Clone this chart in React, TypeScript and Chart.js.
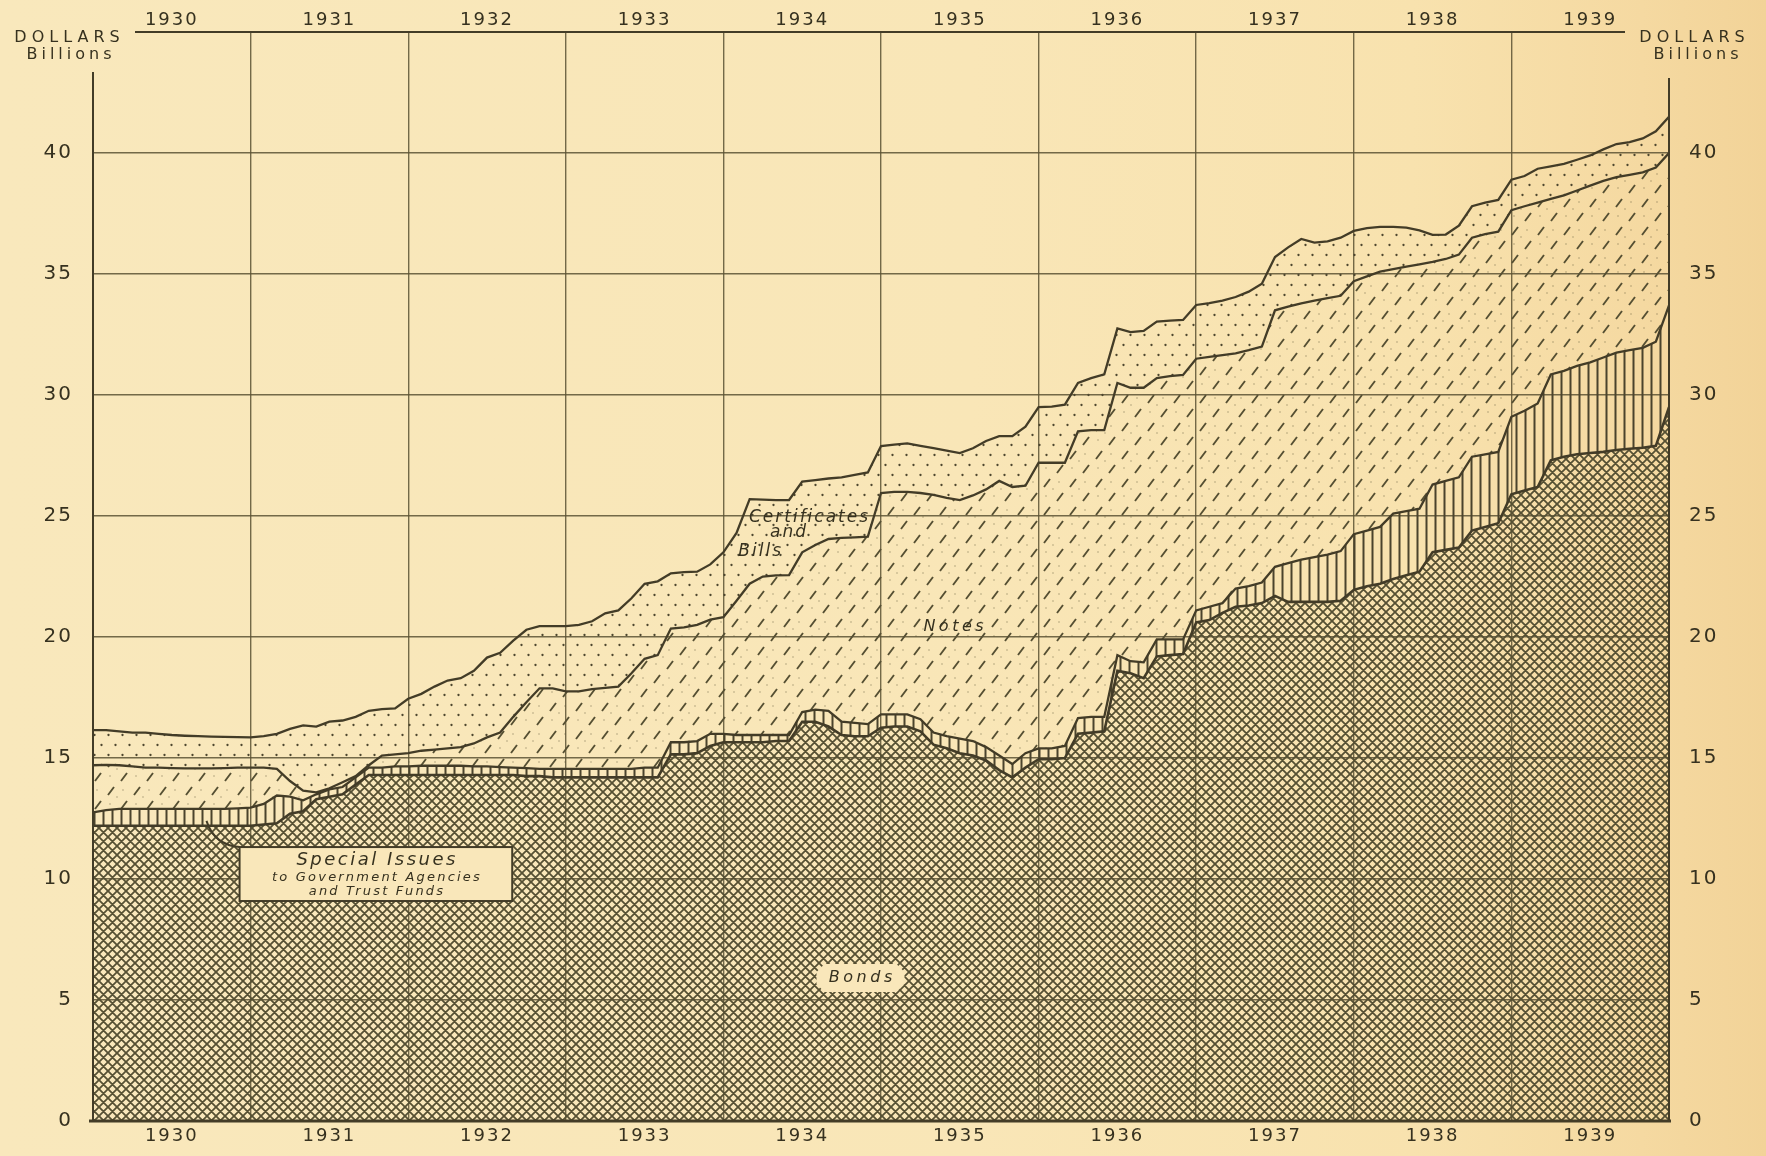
import React, { useEffect, useRef } from 'react';
import { Chart, registerables } from 'chart.js';

Chart.register(...registerables);

const WIDTH = 1766;
const HEIGHT = 1156;

// ---- data ----
const yearLabels = ['1930', '1931', '1932', '1933', '1934', '1935', '1936', '1937', '1938', '1939'];
const yTickValues = [0, 5, 10, 15, 20, 25, 30, 35, 40];
const firstYear = 1930;
const lastYear = 1940;
const yMax = 45;
const monthCount = 121;
// month-end positions (fractional years)
const months = Array.from({ length: monthCount }, (_, i) => firstYear + i / 12);

// Cumulative levels in billions of dollars (monthly)
// Bonds
const bondsLevel = [
  12.2, 12.2, 12.2, 12.2, 12.2, 12.2, 12.2, 12.2, 12.2, 12.2, 12.2, 12.2, 12.2,
  12.25, 12.3, 12.7, 12.8, 13.3, 13.4, 13.5, 13.9, 14.3, 14.3, 14.3, 14.3,
  14.3, 14.3, 14.3, 14.3, 14.3, 14.3, 14.3, 14.3, 14.25, 14.25, 14.2, 14.2,
  14.2, 14.2, 14.2, 14.2, 14.2, 14.2, 14.2, 15.15, 15.15, 15.2, 15.5, 15.65,
  15.65, 15.65, 15.65, 15.7, 15.7, 16.5, 16.5, 16.3, 15.95, 15.9, 15.9, 16.25,
  16.3, 16.3, 16.1, 15.55, 15.4, 15.2, 15.1, 14.9, 14.5, 14.2, 14.6, 14.95,
  14.95, 15.0, 16.0, 16.05, 16.1, 18.6, 18.5, 18.3, 19.2, 19.25, 19.3, 20.6,
  20.7, 21.0, 21.25, 21.3, 21.4, 21.7, 21.45, 21.45, 21.45, 21.45, 21.5, 21.95,
  22.1, 22.2, 22.4, 22.55, 22.7, 23.5, 23.6, 23.7, 24.4, 24.55, 24.7, 25.9,
  26.05, 26.2, 27.3, 27.45, 27.55, 27.6, 27.65, 27.73, 27.78, 27.82, 27.9, 29.5,
];
// Bonds + Special Issues
const specialIssuesLevel = [
  12.75, 12.85, 12.9, 12.9, 12.9, 12.9, 12.9, 12.9, 12.9, 12.9, 12.9, 12.92, 12.95,
  13.1, 13.45, 13.4, 13.25, 13.5, 13.7, 13.8, 14.2, 14.6, 14.6, 14.65, 14.65,
  14.68, 14.68, 14.68, 14.68, 14.65, 14.65, 14.62, 14.6, 14.58, 14.55, 14.55, 14.55,
  14.55, 14.55, 14.55, 14.55, 14.55, 14.6, 14.6, 15.65, 15.65, 15.7, 16.0, 16.0,
  15.95, 15.95, 15.95, 15.95, 15.95, 16.9, 17.0, 16.95, 16.5, 16.45, 16.4, 16.8,
  16.8, 16.8, 16.6, 16.05, 15.9, 15.8, 15.7, 15.45, 15.1, 14.75, 15.2, 15.4,
  15.4, 15.5, 16.65, 16.7, 16.7, 19.25, 19.0, 18.95, 19.9, 19.9, 19.9, 21.1,
  21.25, 21.4, 22.0, 22.1, 22.25, 22.9, 23.05, 23.2, 23.3, 23.4, 23.55, 24.25,
  24.4, 24.55, 25.1, 25.2, 25.3, 26.3, 26.45, 26.6, 27.45, 27.55, 27.65, 29.1,
  29.35, 29.65, 30.85, 31.0, 31.2, 31.35, 31.55, 31.75, 31.85, 31.95, 32.2, 33.7,
];
// Bonds + Special Issues + Notes
const notesLevel = [
  14.7, 14.72, 14.7, 14.65, 14.6, 14.6, 14.58, 14.57, 14.57, 14.57, 14.58, 14.6, 14.6,
  14.6, 14.55, 14.05, 13.65, 13.58, 13.75, 14.0, 14.25, 14.7, 15.1, 15.15, 15.2,
  15.3, 15.35, 15.4, 15.45, 15.6, 15.85, 16.05, 16.7, 17.3, 17.88, 17.88, 17.75,
  17.75, 17.85, 17.9, 17.95, 18.5, 19.1, 19.25, 20.35, 20.4, 20.5, 20.72, 20.82,
  21.5, 22.2, 22.5, 22.55, 22.56, 23.5, 23.8, 24.05, 24.1, 24.12, 24.15, 25.95,
  26.0, 26.0, 25.95, 25.87, 25.75, 25.66, 25.85, 26.1, 26.45, 26.2, 26.25, 27.2,
  27.2, 27.2, 28.5, 28.55, 28.55, 30.5, 30.3, 30.3, 30.7, 30.78, 30.83, 31.5,
  31.58, 31.65, 31.72, 31.85, 32.0, 33.5, 33.65, 33.79, 33.9, 34.0, 34.1, 34.7,
  34.9, 35.1, 35.2, 35.3, 35.4, 35.5, 35.62, 35.8, 36.5, 36.65, 36.75, 37.64,
  37.8, 37.95, 38.1, 38.25, 38.45, 38.65, 38.85, 39.0, 39.1, 39.2, 39.4, 40.0,
];
// Total (incl. Certificates and Bills)
const totalLevel = [
  16.15, 16.15, 16.1, 16.05, 16.05, 16.0, 15.95, 15.92, 15.9, 15.88, 15.87, 15.86, 15.85,
  15.9, 16.0, 16.2, 16.35, 16.3, 16.5, 16.55, 16.7, 16.95, 17.02, 17.05, 17.45,
  17.65, 17.95, 18.2, 18.3, 18.6, 19.15, 19.35, 19.85, 20.3, 20.45, 20.45, 20.45,
  20.5, 20.65, 20.98, 21.1, 21.6, 22.2, 22.3, 22.63, 22.68, 22.7, 23.0, 23.5,
  24.3, 25.7, 25.68, 25.66, 25.66, 26.42, 26.48, 26.55, 26.6, 26.7, 26.8, 27.89,
  27.95, 28.0, 27.9, 27.8, 27.7, 27.6, 27.8, 28.1, 28.3, 28.3, 28.69, 29.5,
  29.52, 29.6, 30.5, 30.7, 30.85, 32.75, 32.6, 32.65, 33.03, 33.07, 33.1, 33.72,
  33.8, 33.9, 34.05, 34.27, 34.6, 35.7, 36.1, 36.45, 36.3, 36.35, 36.5, 36.78,
  36.9, 36.95, 36.95, 36.92, 36.8, 36.62, 36.63, 37.0, 37.8, 37.95, 38.06, 38.9,
  39.05, 39.35, 39.45, 39.55, 39.72, 39.9, 40.15, 40.37, 40.45, 40.6, 40.9, 41.5,
];

// ---- style ----
const INK = '#433c27';
const TEXT = '#36311f';
const GRID = 'rgba(92,82,52,0.85)';
const PAPER = '#f9e7ba';
const FONT = '"DejaVu Sans", "Noto Sans", sans-serif';

function makeTile(w: number, h: number, draw: (g: CanvasRenderingContext2D, w: number, h: number) => void) {
  const c = document.createElement('canvas');
  c.width = w;
  c.height = h;
  const g = c.getContext('2d') as CanvasRenderingContext2D;
  draw(g, w, h);
  return g.createPattern(c, 'repeat') as CanvasPattern;
}

function crossHatch() {
  return makeTile(9, 9, (g, w, h) => {
    g.strokeStyle = '#565033';
    g.lineWidth = 1.75;
    g.beginPath();
    for (const d of [-w, 0, w]) {
      g.moveTo(d - 1, -1);
      g.lineTo(d + w + 1, h + 1);
      g.moveTo(d - 1, h + 1);
      g.lineTo(d + w + 1, -1);
    }
    g.stroke();
  });
}

function verticalLines() {
  return makeTile(9, 4, (g) => {
    g.fillStyle = '#4a432c';
    g.fillRect(3.5, 0, 2, 4);
  });
}

function dashes() {
  return makeTile(26, 28, (g) => {
    g.strokeStyle = '#565033';
    g.lineWidth = 1.9;
    g.beginPath();
    g.moveTo(4, 11);
    g.lineTo(10, 3);
    g.moveTo(17, 25);
    g.lineTo(23, 17);
    g.stroke();
    g.fillStyle = 'rgba(88,80,52,0.5)';
    for (const [x, y] of [[19, 6], [6, 20], [13, 13]]) {
      g.beginPath();
      g.arc(x, y, 0.75, 0, Math.PI * 2);
      g.fill();
    }
  });
}

function dots() {
  return makeTile(14, 20, (g) => {
    g.fillStyle = '#4e472f';
    for (const [x, y] of [[3.5, 5], [10.5, 15]]) {
      g.beginPath();
      g.arc(x, y, 1.15, 0, Math.PI * 2);
      g.fill();
    }
  });
}

const toPoints = (arr: number[]) => arr.map((v, i) => ({ x: months[i], y: v }));

const decorPlugin = {
  id: 'decor',
  beforeDraw(chart: any) {
    chart.ctx.letterSpacing = '2px';
  },
  afterDraw(chart: any) {
    const ctx = chart.ctx as CanvasRenderingContext2D;
    const xs = chart.scales.x;
    const ys = chart.scales.y;
    const px = (v: number) => xs.getPixelForValue(v);
    const py = (v: number) => ys.getPixelForValue(v);
    ctx.save();
    ctx.strokeStyle = INK;
    ctx.lineCap = 'butt';

    // frame
    ctx.lineWidth = 2;
    ctx.beginPath();
    ctx.moveTo(135, py(yMax));
    ctx.lineTo(1625, py(yMax));
    ctx.moveTo(px(firstYear), 72);
    ctx.lineTo(px(firstYear), py(0));
    ctx.moveTo(px(lastYear), 78);
    ctx.lineTo(px(lastYear), py(0));
    ctx.stroke();
    ctx.lineWidth = 3;
    ctx.beginPath();
    ctx.moveTo(px(firstYear) - 4, py(0));
    ctx.lineTo(px(lastYear) + 2, py(0));
    ctx.stroke();

    const text = (s: string, x: number, y: number, font: string, spacing: number) => {
      ctx.font = font;
      (ctx as any).letterSpacing = spacing + 'px';
      ctx.fillText(s, x + spacing / 2, y);
    };
    ctx.fillStyle = TEXT;
    ctx.textAlign = 'center';
    ctx.textBaseline = 'middle';

    // axis titles
    text('DOLLARS', 67, 38, `16px ${FONT}`, 5);
    text('Billions', 69, 55, `16px ${FONT}`, 4);
    text('DOLLARS', 1692, 38, `16px ${FONT}`, 5);
    text('Billions', 1696, 55, `16px ${FONT}`, 4);

    // Certificates and Bills
    const it17 = `italic 17px ${FONT}`;
    text('Certificates', px(1934.54), py(24.92), it17, 2);
    text('and', px(1934.41), py(24.3), it17, 2);
    text('Bills', px(1934.23), py(23.55), it17, 2);

    // Notes
    text('Notes', px(1935.46), py(20.41), `italic 16px ${FONT}`, 3.5);

    // Bonds with cleared blob
    const bx = px(1934.87);
    const by = py(5.91);
    const hw = 44;
    const hh = 14;
    const cut = 8;
    ctx.fillStyle = PAPER;
    ctx.beginPath();
    ctx.moveTo(bx - hw + cut, by - hh);
    ctx.lineTo(bx + hw - cut, by - hh);
    ctx.lineTo(bx + hw, by - hh + cut);
    ctx.lineTo(bx + hw, by + hh - cut);
    ctx.lineTo(bx + hw - cut, by + hh);
    ctx.lineTo(bx - hw + cut, by + hh);
    ctx.lineTo(bx - hw, by + hh - cut);
    ctx.lineTo(bx - hw, by - hh + cut);
    ctx.closePath();
    ctx.fill();
    ctx.fillStyle = TEXT;
    text('Bonds', bx, by, `italic 16px ${FONT}`, 3.5);

    // Special Issues box
    const x0 = px(1930.93);
    const x1 = px(1932.66);
    const y0 = py(11.32);
    const y1 = py(9.09);
    ctx.fillStyle = PAPER;
    ctx.fillRect(x0, y0, x1 - x0, y1 - y0);
    ctx.lineWidth = 2;
    ctx.strokeRect(x0, y0, x1 - x0, y1 - y0);
    // leader
    ctx.lineWidth = 2;
    ctx.beginPath();
    ctx.moveTo(x0, y0);
    ctx.quadraticCurveTo(px(1930.77), py(11.4), px(1930.72), py(12.4));
    ctx.stroke();
    ctx.fillStyle = TEXT;
    const cx = (x0 + x1) / 2;
    text('Special Issues', cx, y0 + 13, `italic 18px ${FONT}`, 2.5);
    text('to Government Agencies', cx, y0 + 31, `italic 13px ${FONT}`, 2.2);
    text('and Trust Funds', cx, y0 + 45, `italic 13px ${FONT}`, 2.2);

    ctx.restore();
    (ctx as any).letterSpacing = '0px';
  },
};

export default function App() {
  const canvasRef = useRef<HTMLCanvasElement | null>(null);

  useEffect(() => {
    const canvas = canvasRef.current;
    if (!canvas) return;
    const transparent = 'rgba(0,0,0,0)';
    const yearFont = { family: FONT, size: 18 };
    const numFont = { family: FONT, size: 20 };

    const chart = new Chart(canvas, {
      type: 'line',
      data: {
        datasets: [
          {
            label: 'Bonds',
            data: toPoints(bondsLevel),
            borderColor: INK,
            borderWidth: 2.6,
            backgroundColor: crossHatch(),
            fill: 'origin',
            pointRadius: 0,
            tension: 0,
          },
          {
            label: 'Special Issues',
            data: toPoints(specialIssuesLevel),
            borderColor: INK,
            borderWidth: 2.3,
            backgroundColor: verticalLines(),
            fill: '-1',
            pointRadius: 0,
            tension: 0,
          },
          {
            label: 'Notes',
            data: toPoints(notesLevel),
            borderColor: INK,
            borderWidth: 2.3,
            backgroundColor: dashes(),
            fill: '-1',
            pointRadius: 0,
            tension: 0,
          },
          {
            label: 'Certificates and Bills',
            data: toPoints(totalLevel),
            borderColor: INK,
            borderWidth: 2.3,
            backgroundColor: dots(),
            fill: '-1',
            pointRadius: 0,
            tension: 0,
          },
        ],
      },
      options: {
        responsive: false,
        animation: false,
        events: [],
        devicePixelRatio: 1,
        layout: { padding: 0 },
        plugins: { legend: { display: false }, tooltip: { enabled: false } },
        scales: {
          x: {
            type: 'linear',
            axis: 'x',
            position: 'bottom',
            min: firstYear,
            max: lastYear,
            ticks: { display: false, stepSize: 1 },
            grid: {
              color: (c: any) => (c.tick && (c.tick.value === firstYear || c.tick.value === lastYear) ? transparent : GRID),
              lineWidth: 1.4,
              drawTicks: false,
            },
            border: { display: false },
            afterFit: (s: any) => { s.height = 0; },
          },
          xBottom: {
            type: 'linear',
            axis: 'x',
            position: 'bottom',
            min: firstYear,
            max: lastYear,
            afterBuildTicks: (s: any) => { s.ticks = yearLabels.map((_, i) => ({ value: firstYear + 0.5 + i })); },
            ticks: {
              autoSkip: false, maxRotation: 0, minRotation: 0, padding: 5, color: TEXT, font: yearFont,
              callback: (_v: any, i: number) => yearLabels[i],
            },
            grid: { display: false, drawTicks: false },
            border: { display: false },
            afterFit: (s: any) => { s.height = 35; },
          },
          xTop: {
            type: 'linear',
            axis: 'x',
            position: 'top',
            min: firstYear,
            max: lastYear,
            afterBuildTicks: (s: any) => { s.ticks = yearLabels.map((_, i) => ({ value: firstYear + 0.5 + i })); },
            ticks: {
              autoSkip: false, maxRotation: 0, minRotation: 0, padding: 1, color: TEXT, font: yearFont,
              callback: (_v: any, i: number) => yearLabels[i],
            },
            grid: { display: false, drawTicks: false },
            border: { display: false },
            afterFit: (s: any) => { s.height = 32; },
          },
          y: {
            type: 'linear',
            axis: 'y',
            position: 'left',
            min: 0,
            max: yMax,
            ticks: {
              stepSize: 5, padding: 20, color: TEXT, font: numFont,
              callback: (v: any) => (yTickValues.includes(v) ? String(v) : ''),
            },
            grid: {
              color: (c: any) => (c.tick && (c.tick.value === 0 || c.tick.value === yMax) ? transparent : GRID),
              lineWidth: 1.4,
              drawTicks: false,
            },
            border: { display: false },
            afterFit: (s: any) => { s.width = 93; },
          },
          yRight: {
            type: 'linear',
            axis: 'y',
            position: 'right',
            min: 0,
            max: yMax,
            ticks: {
              stepSize: 5, padding: 20, color: TEXT, font: numFont,
              callback: (v: any) => (yTickValues.includes(v) ? String(v) : ''),
            },
            grid: { display: false, drawTicks: false },
            border: { display: false },
            afterFit: (s: any) => { s.width = 97; },
          },
        },
      } as any,
      plugins: [decorPlugin],
    });
    return () => chart.destroy();
  }, []);

  return (
    <div
      style={{
        position: 'absolute',
        left: 0,
        top: 0,
        width: WIDTH,
        height: HEIGHT,
        background: 'linear-gradient(90deg, #f9e8bc 0%, #f9e6b7 55%, #f8e2ae 80%, #f5d9a1 93%, #f2d398 100%)',
      }}
    >
      <canvas ref={canvasRef} width={WIDTH} height={HEIGHT} style={{ display: 'block' }} />
    </div>
  );
}
